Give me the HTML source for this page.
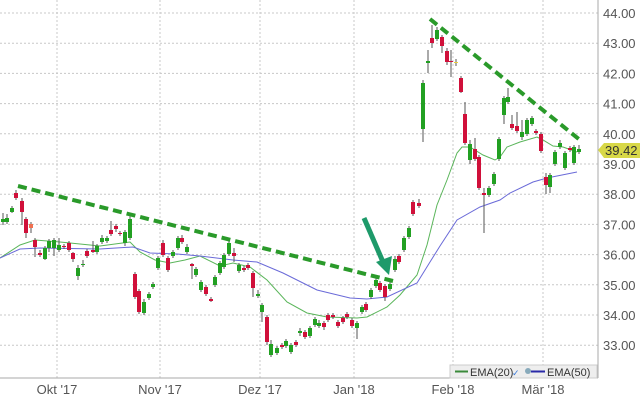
<!DOCTYPE html>
<html><head><meta charset="utf-8"><style>
body{margin:0;background:#fff;width:640px;height:400px;overflow:hidden;font-family:"Liberation Sans",sans-serif}
</style></head><body>
<svg id="s" width="640" height="400" xmlns="http://www.w3.org/2000/svg" style="font-family:'Liberation Sans',sans-serif"></svg>
<script>
const s=document.getElementById('s');let h='';
const yp=p=>13+(44-p)*30.2;
// grid
for(let p=33;p<=44;p++){const y=yp(p);h+=`<line x1="0" x2="598" y1="${y}" y2="${y}" stroke="#c8c8c8" stroke-dasharray="2,2"/>`;
h+=`<text x="603" y="${y+5}" font-size="13" fill="#555">${p.toFixed(2)}</text>`;}
const mx=[[57,"Okt '17"],[160,"Nov '17"],[260,"Dez '17"],[354,"Jan '18"],[453,"Feb '18"],[543,"Mär '18"]];
for(const [x,t] of mx){h+=`<line x1="${x}" x2="${x}" y1="0" y2="378" stroke="#c8c8c8" stroke-dasharray="2,2"/><text x="${x}" y="394" font-size="13" fill="#555" text-anchor="middle">${t}</text>`;}
h+=`<line x1="598" x2="598" y1="0" y2="378" stroke="#aaa"/><line x1="0" x2="598" y1="378" y2="378" stroke="#aaa"/>`;
// emas
const e20=[[0,258],[20,245],[35,240],[60,242],[100,246],[130,242],[140,252],[155,260],[170,263],[185,260],[200,256],[220,266],[233,263],[250,267],[267,280],[287,302],[307,313],[327,317],[357,318],[367,317],[387,307],[400,295],[417,275],[427,245],[437,205],[447,180],[457,153],[462,147],[470,147],[483,155],[495,160],[500,157],[507,147],[520,142],[537,137],[543,140],[553,146],[563,147],[577,152]];
const e50=[[0,258],[20,249],[40,248],[100,249],[133,247],[150,253],[177,254],[200,256],[233,260],[257,262],[283,273],[317,290],[350,298],[367,299],[387,297],[417,283],[430,262],[440,246],[457,220],[480,207],[500,200],[510,193],[533,182],[547,178],[577,172]];
h+=`<polyline fill="none" stroke="#5ab55a" stroke-width="1" points="${e20.join(' ')}"/>`;
h+=`<polyline fill="none" stroke="#6a6ad8" stroke-width="1" points="${e50.join(' ')}"/>`;
// candles: x, y1,y2 body, wick top, wick bot, color g/r
const c=[[3,219,222,213,225,'g'],[7,218,222,214,224,'g'],[12,208,212,206,213,'g'],[16,193,198,190,200,'r'],[22,201,212,198,225,'r'],[26,219,233,217,238,'r'],[31,224,228,222,233,'o'],[35,240,247,238,257,'r'],[40,253,255,250,257,'r'],[45,248,259,246,260,'g'],[49,241,248,239,252,'g'],[54,240,248,238,256,'g'],[59,245,250,238,252,'g'],[64,246,247,244,249,'r'],[69,243,250,241,252,'r'],[73,253,259,252,262,'r'],[78,268,276,265,280,'g'],[83,264,265,260,267,'g'],[87,251,256,249,258,'r'],[93,250,252,241,253,'r'],[97,246,252,244,254,'g'],[102,238,242,235,244,'g'],[107,238,241,236,243,'g'],[111,230,234,221,236,'r'],[116,226,229,224,232,'r'],[120,233,234,231,236,'r'],[125,232,243,230,246,'g'],[130,219,238,216,240,'g'],[135,274,297,272,299,'r'],[139,291,312,289,314,'r'],[144,302,313,299,315,'g'],[149,294,298,292,300,'g'],[153,284,287,282,289,'g'],[158,258,268,256,270,'g'],[163,243,255,240,257,'r'],[168,258,270,256,272,'r'],[173,252,256,250,258,'g'],[178,238,248,236,250,'g'],[182,238,242,235,244,'r'],[187,247,252,244,254,'g'],[192,264,266,263,279,'r'],[196,269,275,267,277,'g'],[201,282,290,280,292,'g'],[206,287,294,285,296,'r'],[211,299,301,297,302,'r'],[215,277,285,275,287,'g'],[220,263,273,261,275,'g'],[224,255,267,253,269,'g'],[229,243,254,240,256,'g'],[234,253,256,248,262,'r'],[239,265,271,263,273,'g'],[244,268,270,266,272,'r'],[248,265,268,263,270,'r'],[253,273,288,271,297,'r'],[258,294,296,290,298,'g'],[262,305,312,303,322,'g'],[267,317,342,315,345,'r'],[271,344,355,340,357,'g'],[277,348,353,346,355,'g'],[282,345,347,343,349,'r'],[286,341,346,339,348,'g'],[291,345,352,343,354,'g'],[296,342,345,340,347,'r'],[300,331,333,328,336,'g'],[305,332,337,330,339,'r'],[310,328,336,326,338,'g'],[315,319,325,317,327,'g'],[319,323,326,320,328,'g'],[324,323,327,321,330,'r'],[328,315,320,313,322,'r'],[333,315,317,313,319,'r'],[338,322,326,320,328,'r'],[343,318,322,316,324,'r'],[347,314,317,312,319,'r'],[352,320,326,318,328,'r'],[357,323,328,321,339,'g'],[362,307,312,305,314,'g'],[366,304,310,302,312,'r'],[371,290,297,288,299,'g'],[376,280,286,278,288,'g'],[380,283,290,281,292,'r'],[385,286,297,284,301,'r'],[390,284,289,282,291,'g'],[395,259,270,256,272,'g'],[399,256,262,254,264,'r'],[404,238,250,236,252,'g'],[409,228,237,226,239,'g'],[413,202,214,200,216,'r'],[419,203,206,199,208,'r'],[423,83,129,80,142,'g'],[428,61,63,50,73,'g'],[432,38,43,25,48,'r'],[437,30,39,27,41,'g'],[442,37,46,35,53,'r'],[447,51,62,48,65,'r'],[451,61,62,50,77,'r'],[456,62,63,59,66,'y'],[461,78,92,76,93,'r'],[465,114,143,102,145,'r'],[470,144,160,140,164,'g'],[475,149,159,138,161,'r'],[479,157,188,155,190,'r'],[484,193,195,188,233,'r'],[489,188,195,186,197,'g'],[494,174,184,172,186,'g'],[499,139,159,137,161,'g'],[504,98,115,96,124,'g'],[508,97,102,88,104,'g'],[512,124,128,115,130,'r'],[517,126,131,112,133,'r'],[522,132,137,120,140,'g'],[527,120,134,118,136,'g'],[532,118,124,116,126,'g'],[536,131,133,129,135,'r'],[541,134,151,132,153,'r'],[546,177,185,173,194,'r'],[550,175,187,173,193,'g'],[555,152,164,150,166,'g'],[560,143,147,140,149,'g'],[565,153,168,151,170,'g'],[570,148,150,146,152,'r'],[574,147,163,145,165,'g'],[579,149,152,145,154,'g']];
const col={g:'#22a022',r:'#d0103a',o:'#f07050',y:'#e8d040'};
for(const [x,a,b,t,l,k] of c){h+=`<line x1="${x}" x2="${x}" y1="${t}" y2="${l}" stroke="#555"/><rect x="${x-2}" y="${a}" width="4" height="${Math.max(1,b-a)}" fill="${col[k]}"/>`;}
// trend lines
h+=`<line x1="18" y1="186" x2="393" y2="281" stroke="#2a9a2a" stroke-width="4" stroke-dasharray="9,5"/>`;
h+=`<line x1="430" y1="19" x2="580" y2="140" stroke="#2a9a2a" stroke-width="4" stroke-dasharray="9,5"/>`;
// arrow
h+=`<line x1="364" y1="218" x2="383" y2="262" stroke="#1e9a6a" stroke-width="5"/><polygon points="376,262 392,256 389,275" fill="#1e9a6a"/>`;
// price tag
h+=`<polygon points="598,150 604,143 640,143 640,158 604,158" fill="#d8d848"/><text x="605" y="155" font-size="13" fill="#333">39.42</text>`;
// legend
h+=`<rect x="450" y="365" width="147" height="13" fill="#eee" stroke="#ccc"/><line x1="455" x2="468" y1="371.5" y2="371.5" stroke="#3a8a3a" stroke-width="2"/><text x="470" y="376" font-size="11" fill="#333">EMA(20)</text><text x="512" y="376" font-size="9" fill="#3a7ad8">✓</text><circle cx="528" cy="371" r="3" fill="#8ab"/><line x1="531" x2="545" y1="371.5" y2="371.5" stroke="#2a2aa8" stroke-width="2"/><text x="547" y="376" font-size="11" fill="#333">EMA(50)</text>`;
s.innerHTML=h;
</script>
</body></html>
